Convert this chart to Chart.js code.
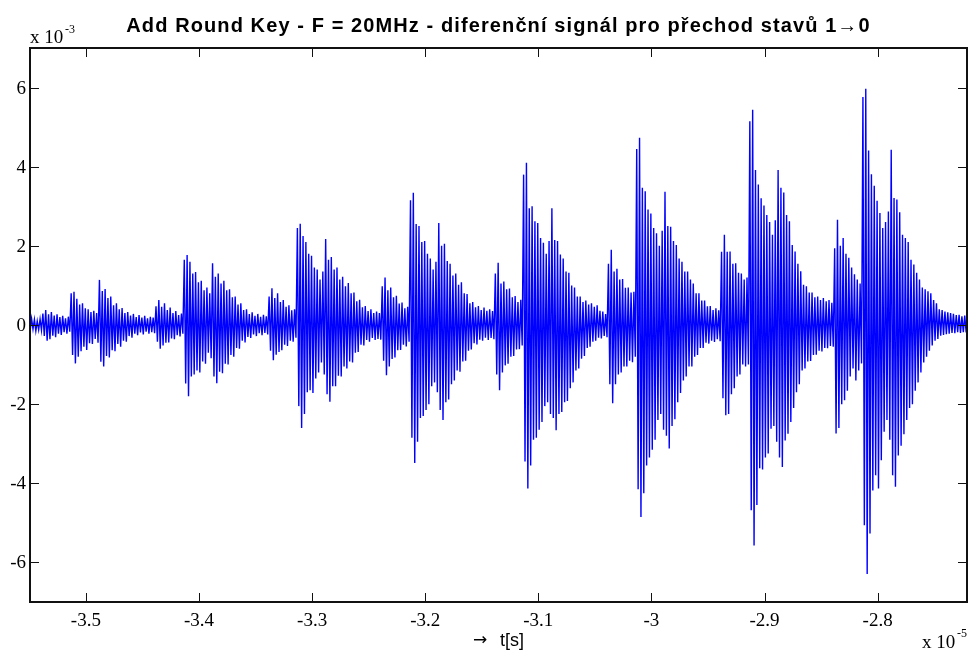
<!DOCTYPE html>
<html>
<head>
<meta charset="utf-8">
<script src="https://cdn.jsdelivr.net/npm/chart.js@4/dist/chart.umd.min.js"></script>
<style>
  html, body { margin: 0; padding: 0; background: #ffffff; }
  #c { display: block; }
</style>
</head>
<body>
<canvas id="c" width="969" height="651"></canvas>
<script>
// ---- sampling of the trace (time in units of 1e-5 s, value in units of 1e-3) ----
const T0 = -3.5505;   // time of first sample
const DT = 0.00125;   // spacing between successive half-cycle peaks

// lead-in noise before the first burst group (interleaved +/-)
const lead = [0.12,-0.14,0.16,-0.10,0.14,-0.15,0.10,-0.12,0.15,-0.13];

// each group: 40 positive peaks and 40 negative peaks (small burst, main burst, secondary burst + decay)
const seg0Pos = [0.29,0.38,0.27,0.33,0.24,0.27,0.20,0.23,0.17,0.21, 0.80,0.84,0.66,0.52,0.55,0.42,0.40,0.33,0.36,0.30, 1.14,0.86,0.91,0.68,0.72,0.50,0.55,0.40,0.43,0.30,0.33,0.24,0.28,0.20,0.25,0.19,0.23,0.17,0.21,0.19];
const seg0Neg = [-0.28,-0.40,-0.36,-0.27,-0.31,-0.22,-0.25,-0.18,-0.22,-0.17, -0.76,-0.97,-0.80,-0.66,-0.55,-0.63,-0.46,-0.48,-0.35,-0.45, -0.93,-1.05,-0.78,-0.82,-0.64,-0.66,-0.48,-0.55,-0.40,-0.42,-0.28,-0.32,-0.22,-0.26,-0.19,-0.24,-0.17,-0.22,-0.18,-0.21];

const seg1Pos = [0.47,0.63,0.46,0.55,0.38,0.44,0.30,0.35,0.25,0.29, 1.65,1.77,1.60,1.30,1.34,1.08,1.12,0.88,0.95,0.80, 1.56,1.22,1.30,1.05,1.12,0.88,0.90,0.70,0.72,0.52,0.55,0.38,0.40,0.28,0.32,0.23,0.28,0.21,0.26,0.22];
const seg1Neg = [-0.42,-0.60,-0.52,-0.45,-0.44,-0.34,-0.36,-0.26,-0.29,-0.22, -1.48,-1.80,-1.30,-1.25,-1.15,-1.20,-0.92,-0.98,-0.70,-0.84, -1.30,-1.47,-1.18,-1.22,-0.98,-1.00,-0.76,-0.80,-0.58,-0.60,-0.40,-0.44,-0.30,-0.33,-0.24,-0.28,-0.21,-0.26,-0.20,-0.24];

const seg2Pos = [0.72,0.93,0.68,0.80,0.58,0.63,0.46,0.50,0.37,0.40, 2.45,2.56,2.25,2.10,1.80,1.75,1.45,1.40,1.15,1.35, 2.17,1.65,1.72,1.40,1.45,1.15,1.22,0.98,1.06,0.80,0.82,0.60,0.64,0.45,0.48,0.35,0.40,0.30,0.34,0.30];
const seg2Neg = [-0.65,-0.89,-0.75,-0.68,-0.64,-0.50,-0.53,-0.40,-0.42,-0.32, -2.05,-2.60,-2.25,-1.70,-1.65,-1.72,-1.35,-1.20,-0.95,-1.25, -1.75,-1.94,-1.55,-1.55,-1.28,-1.30,-1.05,-1.10,-0.92,-0.95,-0.70,-0.68,-0.50,-0.52,-0.38,-0.42,-0.33,-0.38,-0.35,-0.37];

const seg3Pos = [0.98,1.20,0.88,0.95,0.70,0.74,0.54,0.57,0.42,0.46, 3.15,3.34,2.55,2.50,2.10,2.12,1.80,1.68,1.40,1.60, 2.58,2.00,2.05,1.62,1.55,1.25,1.30,1.02,1.08,0.80,0.78,0.55,0.58,0.45,0.48,0.38,0.44,0.36,0.40,0.35];
const seg3Neg = [-0.90,-1.27,-1.05,-0.86,-0.82,-0.64,-0.63,-0.50,-0.54,-0.42, -2.85,-3.49,-2.95,-2.35,-2.30,-2.15,-2.00,-1.55,-1.45,-1.70, -2.15,-2.40,-1.95,-1.88,-1.50,-1.40,-1.15,-1.18,-0.92,-0.90,-0.65,-0.62,-0.46,-0.49,-0.37,-0.40,-0.32,-0.38,-0.33,-0.36];

const seg4Pos = [1.30,1.57,1.05,1.10,0.90,0.92,0.70,0.73,0.58,0.64, 3.80,4.10,2.95,3.00,2.62,2.58,2.20,2.08,1.80,2.12, 2.95,2.15,2.12,1.78,1.68,1.35,1.32,1.00,0.95,0.72,0.72,0.58,0.62,0.52,0.55,0.46,0.50,0.36,0.34,0.28];
const seg4Neg = [-1.25,-1.65,-1.20,-1.02,-0.98,-0.80,-0.78,-0.62,-0.61,-0.52, -3.45,-4.13,-3.55,-2.90,-2.85,-2.65,-2.45,-2.05,-1.95,-2.25, -2.35,-2.66,-2.25,-2.20,-1.95,-1.92,-1.60,-1.45,-1.15,-1.10,-0.85,-0.78,-0.58,-0.55,-0.42,-0.40,-0.32,-0.34,-0.28,-0.31];

const seg5Pos = [1.55,1.90,1.35,1.42,1.15,1.16,0.94,0.95,0.82,0.84, 4.45,4.73,3.47,3.38,2.92,2.82,2.45,2.32,2.00,2.38, 3.37,2.50,2.48,2.12,2.02,1.68,1.60,1.35,1.35,1.15,1.05,0.80,0.80,0.62,0.62,0.47,0.48,0.38,0.42,0.37];
const seg5Neg = [-1.50,-1.98,-1.50,-1.25,-1.20,-1.05,-1.05,-0.90,-0.94,-0.80, -4.15,-4.85,-4.25,-3.55,-3.35,-3.15,-2.90,-2.40,-2.25,-2.65, -2.80,-3.12,-2.55,-2.38,-1.95,-1.72,-1.40,-1.30,-1.05,-1.05,-0.80,-0.76,-0.58,-0.58,-0.45,-0.47,-0.40,-0.43,-0.36,-0.41];

const seg6Pos = [1.85,2.28,1.85,1.86,1.55,1.56,1.32,1.30,1.15,1.20, 5.15,5.44,3.92,3.55,3.20,3.02,2.78,2.60,2.28,2.65, 3.92,3.47,3.35,2.78,2.62,2.02,1.86,1.55,1.36,1.02,0.98,0.82,0.82,0.70,0.72,0.63,0.68,0.60,0.63,0.56];
const seg6Neg = [-1.85,-2.28,-2.25,-1.75,-1.60,-1.30,-1.25,-1.00,-1.05,-1.00, -4.68,-5.57,-4.55,-3.62,-3.65,-3.35,-3.25,-2.62,-2.55,-2.95, -3.35,-3.59,-2.92,-2.75,-2.45,-2.10,-1.70,-1.50,-1.15,-1.10,-0.92,-0.91,-0.76,-0.75,-0.65,-0.67,-0.58,-0.59,-0.53,-0.55];

const seg7Pos = [1.94,2.66,2.00,2.20,1.80,1.70,1.45,1.28,1.15,1.05, 5.76,5.97,4.41,3.81,3.52,3.14,2.83,2.45,2.60,2.87, 4.43,3.21,3.17,2.85,2.28,2.20,2.10,1.65,1.53,1.32,1.15,0.95,0.90,0.85,0.80,0.63,0.55,0.40,0.38,0.34];
const seg7Neg = [-2.74,-2.60,-2.00,-1.90,-1.66,-1.30,-1.10,-1.40,-1.15,-0.97, -5.06,-6.29,-5.27,-4.18,-3.80,-4.13,-3.42,-2.70,-2.40,-2.90, -3.80,-4.09,-3.30,-3.05,-2.76,-2.40,-2.10,-2.00,-1.66,-1.45,-1.20,-0.95,-0.80,-0.65,-0.52,-0.40,-0.35,-0.27,-0.25,-0.23];

// trailing noise after the last group (interleaved +/-)
const tail = [0.32,-0.22,0.30,-0.20,0.28,-0.21,0.25,-0.18,0.26,-0.20,0.22,-0.18,0.24,-0.19];

// axis ticks
const xTicks = [-3.5,-3.4,-3.3,-3.2,-3.1,-3.0,-2.9,-2.8];
const xTickLabels = ['-3.5','-3.4','-3.3','-3.2','-3.1','-3','-2.9','-2.8'];
const yTicks = [-6,-4,-2,0,2,4,6];
const yTickLabels = ['-6','-4','-2','0','2','4','6'];

const titleText = 'Add Round Key - F = 20MHz - diferenční signál pro přechod stavů 1\u21920';

// ---- assemble series ----
const groups = [[seg0Pos,seg0Neg],[seg1Pos,seg1Neg],[seg2Pos,seg2Neg],[seg3Pos,seg3Neg],
                [seg4Pos,seg4Neg],[seg5Pos,seg5Neg],[seg6Pos,seg6Neg],[seg7Pos,seg7Neg]];
let values = lead.slice();
groups.forEach(([p, n]) => { for (let i = 0; i < p.length; i++) { values.push(p[i], n[i]); } });
values = values.concat(tail);
const points = values.map((v, i) => ({ x: T0 + i * DT, y: v }));

const SERIF = '"Liberation Serif", "Times New Roman", serif';
const SANS = '"Liberation Sans", Arial, sans-serif';

const axesPlugin = {
  id: 'matlabAxes',
  afterDraw(chart) {
    const ctx = chart.ctx;
    const a = chart.chartArea;
    const xs = chart.scales.x, ys = chart.scales.y;
    ctx.save();
    // title
    ctx.fillStyle = '#000';
    ctx.font = 'bold 20px ' + SANS;
    ctx.textAlign = 'center';
    ctx.textBaseline = 'alphabetic';
    if ('letterSpacing' in ctx) ctx.letterSpacing = '1.1px';
    ctx.fillText(titleText, (a.left + a.right) / 2, 32);
    if ('letterSpacing' in ctx) ctx.letterSpacing = '0px';
    // box
    ctx.strokeStyle = '#111';
    ctx.lineWidth = 2;
    ctx.strokeRect(a.left, a.top, a.right - a.left, a.bottom - a.top);
    // ticks (inward, on all four sides)
    ctx.lineWidth = 1;
    const tl = 9;
    ctx.beginPath();
    xTicks.forEach(v => {
      const px = Math.round(xs.getPixelForValue(v)) + 0.5;
      ctx.moveTo(px, a.bottom); ctx.lineTo(px, a.bottom - tl);
      ctx.moveTo(px, a.top); ctx.lineTo(px, a.top + tl);
    });
    yTicks.forEach(v => {
      const py = Math.round(ys.getPixelForValue(v)) + 0.5;
      ctx.moveTo(a.left, py); ctx.lineTo(a.left + tl, py);
      ctx.moveTo(a.right, py); ctx.lineTo(a.right - tl, py);
    });
    ctx.stroke();
    // tick labels
    ctx.font = '19px ' + SERIF;
    ctx.textAlign = 'right';
    ctx.textBaseline = 'middle';
    yTicks.forEach((v, i) => ctx.fillText(yTickLabels[i], a.left - 4, ys.getPixelForValue(v) + 1));
    ctx.textAlign = 'center';
    ctx.textBaseline = 'alphabetic';
    xTicks.forEach((v, i) => ctx.fillText(xTickLabels[i], xs.getPixelForValue(v), a.bottom + 24));
    // axis label
    ctx.font = '17px "DejaVu Sans", sans-serif';
    ctx.textAlign = 'center';
    ctx.fillText('\u2192', 480, a.bottom + 43);
    ctx.font = '18px ' + SANS;
    ctx.textAlign = 'left';
    ctx.fillText('t[s]', 500, a.bottom + 44);
    // exponent labels
    ctx.font = '19px ' + SERIF;
    ctx.fillText('x 10', a.left, a.top - 5);
    ctx.font = '12px ' + SERIF;
    ctx.fillText('-3', a.left + 35, a.top - 15);
    ctx.font = '19px ' + SERIF;
    ctx.fillText('x 10', 922, 648);
    ctx.font = '12px ' + SERIF;
    ctx.fillText('-5', 957, 637);
    ctx.restore();
  }
};

new Chart(document.getElementById('c'), {
  type: 'line',
  data: {
    datasets: [{
      data: points,
      borderColor: 'rgb(0,0,255)',
      borderWidth: 1.4,
      pointRadius: 0,
      fill: false,
      tension: 0
    }]
  },
  options: {
    responsive: false,
    animation: false,
    devicePixelRatio: 1,
    layout: { padding: { left: 30, right: 2, top: 48, bottom: 49 } },
    scales: {
      x: { type: 'linear', min: -3.5494, max: -2.721, display: false },
      y: { type: 'linear', min: -7, max: 7, display: false }
    },
    plugins: {
      legend: { display: false },
      tooltip: { enabled: false },
      title: { display: false }
    }
  },
  plugins: [axesPlugin]
});
</script>
</body>
</html>
